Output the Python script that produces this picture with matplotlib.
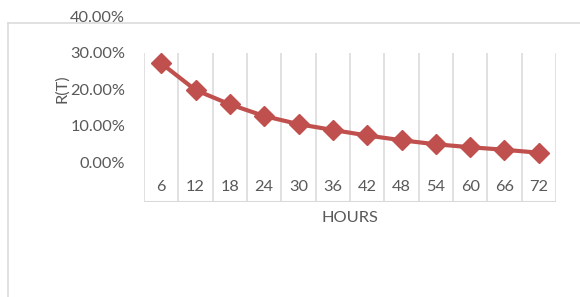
import matplotlib
matplotlib.use("Agg")
import matplotlib.pyplot as plt
from matplotlib.lines import Line2D

hours = [6, 12, 18, 24, 30, 36, 42, 48, 54, 60, 66, 72]
r_t = [27.1, 19.8, 15.9, 12.7, 10.5, 8.9, 7.4, 6.1, 5.0, 4.2, 3.5, 2.7]
y_ticks = [0, 10, 20, 30, 40]

GRID = "#d9d9d9"
TXT = "#595959"
RED = "#c0504d"
FONT = ["Lato", "DejaVu Sans"]
plt.rcParams["font.family"] = FONT
FS = 11.8

W, H = 580, 297
fig = plt.figure(figsize=(W / 100, H / 100), dpi=100)
fig.patch.set_facecolor("white")

# plot area in pixels: x 144..556, y 16 (40%) .. 201.7 (bottom of category box)
left, right, top, bottom = 144, 556, 16, 201.7
ax = fig.add_axes([left / W, 1 - bottom / H, (right - left) / W, (bottom - top) / H])
ax.set_facecolor("none")
for s in ax.spines.values():
    s.set_visible(False)

ymin = -(bottom - 162.5) / 3.675
ax.set_ylim(ymin, 40)
ax.set_xlim(-0.5, len(hours) - 0.5)

# category boxes (vertical gridlines + bottom line)
xs = [i - 0.5 for i in range(len(hours) + 1)]
ax.vlines(xs, ymin, 30, color=GRID, lw=1.1, zorder=1)
ax.hlines(ymin, xs[0], xs[-1], color=GRID, lw=2.2, zorder=1)

ax.plot(range(len(hours)), r_t, color=RED, lw=3.0, marker="D", markersize=10,
        markerfacecolor=RED, markeredgecolor=RED, zorder=3, clip_on=False)

ax.set_xticks([])
ax.set_yticks(y_ticks)
ax.set_yticklabels([f"{v:.2f}%" for v in y_ticks])
ax.tick_params(axis="y", length=0, pad=13.5, labelsize=FS, labelcolor=TXT)

for i, h in enumerate(hours):
    ax.text(i, 0.08, str(h), transform=ax.get_xaxis_transform(), ha="center",
            va="center", fontsize=FS, color=TXT)

fig.text(62 / W, 1 - 89 / H, "R(T)", rotation=90, ha="center", va="center",
         fontsize=FS, color=TXT)
fig.text(350 / W, 1 - 218 / H, "HOURS", ha="center", va="center",
         fontsize=FS, color=TXT)

# chart area border (runs off the image)
fig.add_artist(Line2D([7.5 / W, 7.5 / W], [0, 1 - 23 / H], color=GRID, lw=1.1,
                      transform=fig.transFigure))
fig.add_artist(Line2D([7.5 / W, 1], [1 - 23 / H, 1 - 23 / H], color=GRID, lw=1.1,
                      transform=fig.transFigure))

fig.savefig("out.png", dpi=100, facecolor="white")
